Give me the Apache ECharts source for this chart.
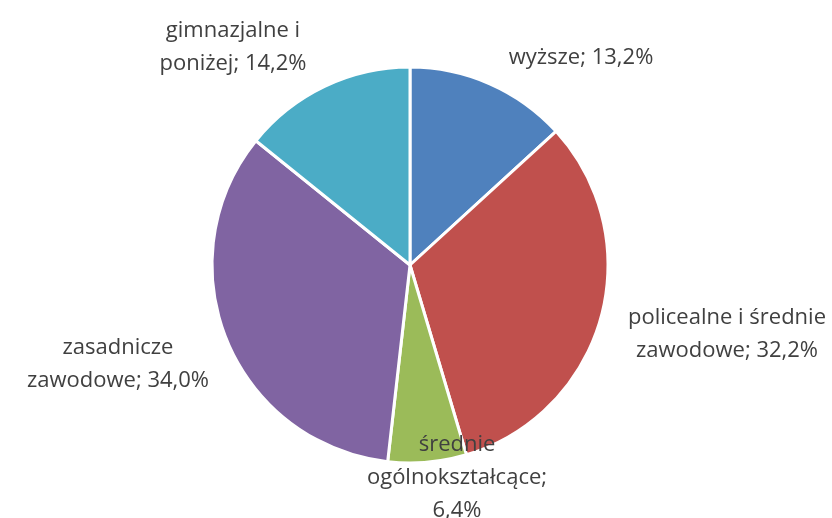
<!DOCTYPE html>
<html>
<head>
<meta charset="utf-8">
<script src="https://cdn.jsdelivr.net/npm/echarts@6/dist/echarts.min.js"></script>
<style>
    html, body { margin: 0; padding: 0; background: #fff; }
    #chart { width: 832px; height: 518px; }
</style>
</head>
<body>
<div id="chart"></div>
<script>
// education level shares (%)
const categories = ["wyższe", "policealne i średnie\nzawodowe", "średnie\nogólnokształcące;\n", "zasadnicze\nzawodowe", "gimnazjalne i\nponiżej"];
const shares = [13.2, 32.2, 6.4, 34.0, 14.2];
const colors = ["#4F81BD", "#C0504D", "#9BBB59", "#8064A2", "#4BACC6"];

// where each label sits (centre of text block)
const labelSpots = [[581, 58], [727, 334], [457, 478], [118, 364], [233, 47]];

let myChart = echarts.init(document.getElementById("chart"));

let pieData = [];
categories.forEach((name, i) => {
    pieData.push({ name: name, value: shares[i], itemStyle: { color: colors[i] } });
});

function fmt(v) {
    return v.toFixed(1).replace(".", ",") + "%";
}

myChart.setOption({
    animation: false,
    series: [
        {
            type: "pie",
            center: [410, 265],
            radius: 198,
            startAngle: 90,
            clockwise: true,
            data: pieData,
            itemStyle: {
                borderColor: "#fff",
                borderWidth: 3,
            },
            label: {
                show: true,
                position: "outside",
                color: "#404040",
                fontFamily: "Open Sans",
                fontSize: 22,
                lineHeight: 33,
                align: "center",
                overflow: "none",
                edgeDistance: 0,
                formatter: function (p) {
                    let n = p.name;
                    if (n.endsWith("\n")) return n + fmt(p.value);
                    return n + "; " + fmt(p.value);
                },
            },
            labelLine: { show: false },
            labelLayout: function (params) {
                let s = labelSpots[params.dataIndex];
                return { x: s[0], y: s[1], align: "center", verticalAlign: "middle", width: 300 };
            },
        },
    ],
});
</script>
</body>
</html>
